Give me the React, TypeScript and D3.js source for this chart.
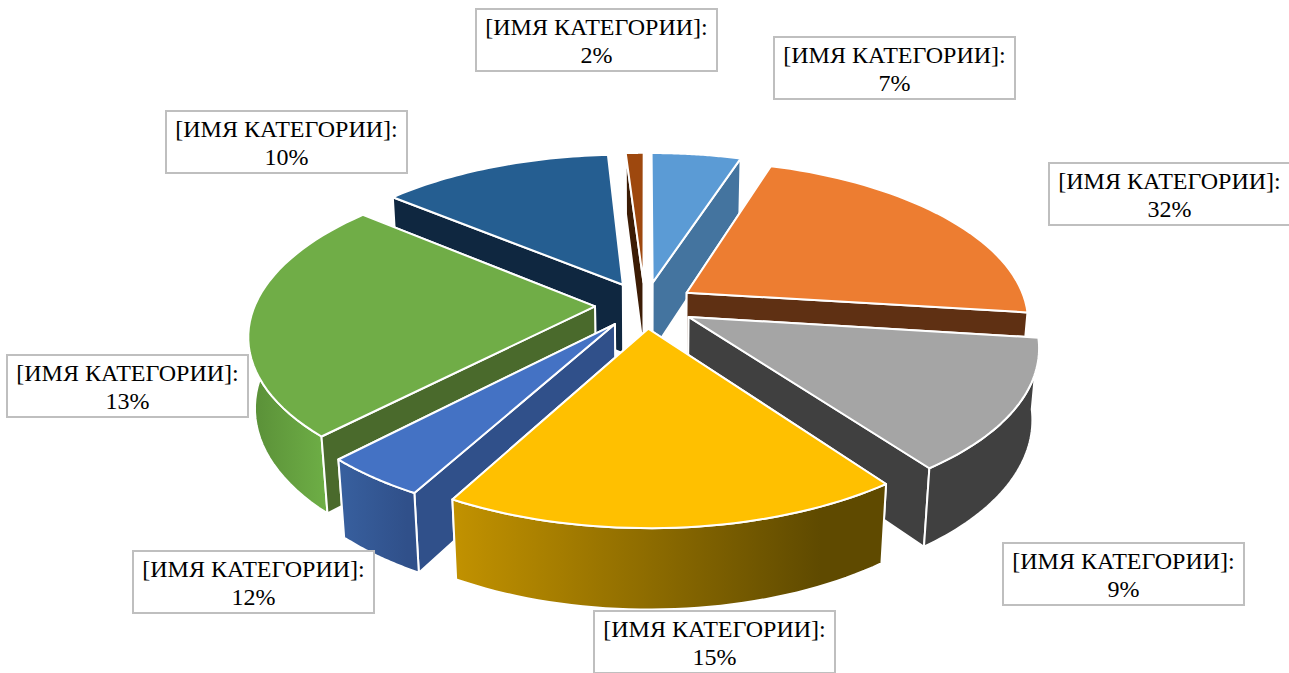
import React from 'react';
import * as d3 from 'd3';

// slice sizes as drawn (the labels in the source show different percentages)
const sliceValues = [5, 22, 13, 17.97, 4.14, 23.92, 12.97, 1];
const labelPercents = [7, 32, 9, 15, 12, 13, 10, 2];
const categoryLabel = '[ИМЯ КАТЕГОРИИ]:';

const topColors = ['#5b9bd5', '#ed7d31', '#a5a5a5', '#ffc000', '#4472c4', '#70ad47', '#255e91', '#9e480e'];
const wallColors = ['#44749f', '#5f3013', '#404040', '#5f4a00', '#30508a', '#4a6a2c', '#0f2740', '#3c1c05'];
const rimFrom = ['#44749f', '#5f3013', '#404040', '#c29200', '#38609f', '#598e37', '#0f2740', '#3c1c05'];
const rimTo = ['#44749f', '#5f3013', '#404040', '#5f4a00', '#30508a', '#74b84a', '#0f2740', '#3c1c05'];

const labelBoxes = [
  [774, 37], [1049, 163], [1003, 543], [594, 611], [133, 551], [7, 355], [166, 111], [476, 9],
];

const W = 1289;
const H = 673;
const cx = 645;
const cy = 305;
const radius = 340;
const explode = 50;
const tilt = 0.464;
const camera = 2060;
const depth = 71;
const depthPersp = 34;

type Pt = [number, number];

const project = (x: number, y: number, z: number): Pt => {
  const s = camera / (camera - y + z * depthPersp);
  return [cx + s * x, cy + s * (y * tilt + z * depth)];
};

const line = d3.line<Pt>().curve(d3.curveLinearClosed);

const arcs = d3.pie<number>().sort(null).value(d => d)(sliceValues);

const buildSlice = (a: d3.PieArcDatum<number>, i: number) => {
  const mid = (a.startAngle + a.endAngle) / 2;
  const ox = explode * Math.sin(mid);
  const oy = -explode * Math.cos(mid);
  const rim = (t: number, z: number) =>
    project(ox + radius * Math.sin(t), oy - radius * Math.cos(t), z);
  const angles = d3.range(41).map(n => a.startAngle + ((a.endAngle - a.startAngle) * n) / 40);
  const tipTop = project(ox, oy, 0);
  const tipBottom = project(ox, oy, 1);

  const top = [tipTop, ...angles.map(t => rim(t, 0))];
  const outer = [...angles.map(t => rim(t, 0)), ...angles.slice().reverse().map(t => rim(t, 1))];
  const wallAt = (t: number) => [tipTop, rim(t, 0), rim(t, 1), tipBottom];

  const rimDepth = d3.mean(angles, t => oy - radius * Math.cos(t)) as number;
  const wallDepth = (t: number) => oy - (radius / 2) * Math.cos(t);

  const faces = [
    { key: 'start', d: line(wallAt(a.startAngle)) as string, fill: wallColors[i], order: wallDepth(a.startAngle) },
    { key: 'end', d: line(wallAt(a.endAngle)) as string, fill: wallColors[i], order: wallDepth(a.endAngle) },
    { key: 'rim', d: line(outer) as string, fill: `url(#rim${i})`, order: rimDepth },
  ].sort((p, q) => p.order - q.order);

  return { i, order: -Math.cos(mid), faces, top: line(top) as string };
};

const slices = arcs.map(buildSlice).sort((p, q) => p.order - q.order);

export default function App() {
  return (
    <svg width={W} height={H} style={{ position: 'absolute', left: 0, top: 0 }}>
      <defs>
        {sliceValues.map((_, i) => (
          <linearGradient key={i} id={`rim${i}`} x1="0" x2="1" y1="0" y2="0">
            <stop offset="0" stopColor={rimFrom[i]} />
            <stop offset="0.85" stopColor={rimTo[i]} />
          </linearGradient>
        ))}
      </defs>
      {slices.map(s => (
        <g key={s.i} stroke="#fff" strokeWidth={2} strokeLinejoin="round">
          {s.faces.map(f => (
            <path key={f.key} d={f.d} fill={f.fill} />
          ))}
          <path d={s.top} fill={topColors[s.i]} />
        </g>
      ))}
      {labelPercents.map((p, i) => {
        const [x, y] = labelBoxes[i];
        return (
          <g key={i} transform={`translate(${x},${y})`} fontFamily="'Liberation Serif'" fontSize={24} textAnchor="middle" fill="#000">
            <rect width={241} height={62} fill="#fff" stroke="#bfbfbf" strokeWidth={2} />
            <text x={120.5} y={26}>{categoryLabel}</text>
            <text x={120.5} y={53.5}>{p}%</text>
          </g>
        );
      })}
    </svg>
  );
}
